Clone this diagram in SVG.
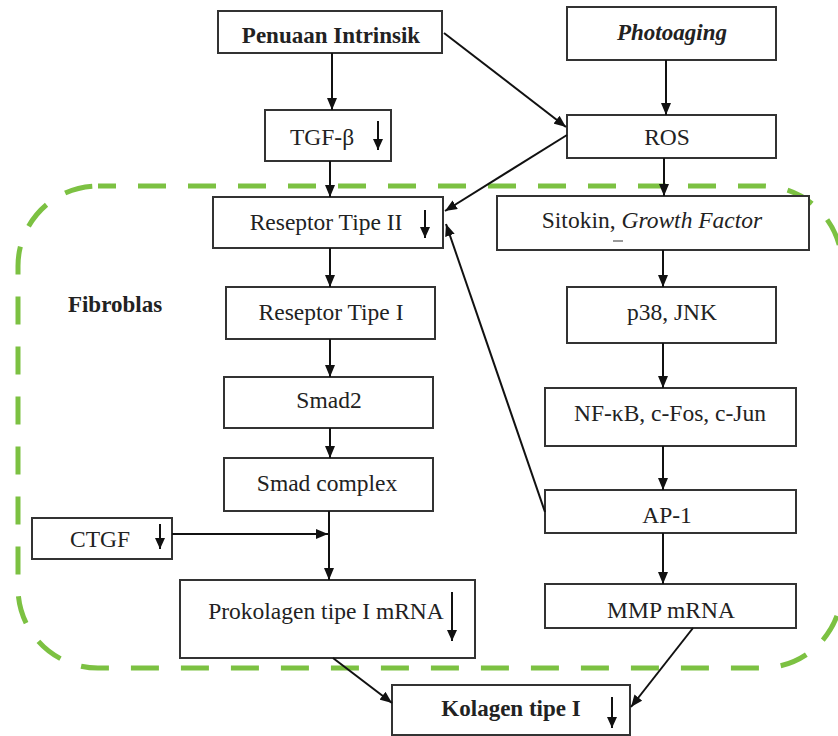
<svg xmlns="http://www.w3.org/2000/svg" width="838" height="736" viewBox="0 0 838 736">
<style>
.box{fill:#fff;stroke:#333;stroke-width:2}
.t{font-family:"Liberation Serif","Times New Roman",serif;font-size:23.5px;fill:#222;text-anchor:middle}
.b{font-weight:bold;font-size:23px}
.c{fill:none;stroke:#111;stroke-width:2}
.m{fill:none;stroke:#111;stroke-width:2}
.border{fill:none;stroke:#7cc142;stroke-width:5;stroke-dasharray:28 22;stroke-dashoffset:10}
</style>
<defs>
<marker id="ah" viewBox="0 0 12 10" refX="12" refY="5" markerWidth="12" markerHeight="10" markerUnits="userSpaceOnUse" orient="auto"><path d="M0,0 L12,5 L0,10 z" fill="#111"/></marker>
<marker id="ah2" viewBox="0 0 11 10" refX="11" refY="5" markerWidth="11" markerHeight="10" markerUnits="userSpaceOnUse" orient="auto"><path d="M0,0 L11,5 L0,10 z" fill="#111"/></marker>
</defs>
<rect width="838" height="736" fill="#fff"/>
<rect id="fibroblas-region" class="border" x="18" y="186" width="824" height="482" rx="80" ry="80"/>
<text class="t b" x="115" y="312">Fibroblas</text>

<g id="penuaan"><rect class="box" x="218" y="11" width="224" height="42"/><text class="t b" x="331" y="43">Penuaan Intrinsik</text></g>
<g id="photoaging"><rect class="box" x="567" y="7" width="209" height="53"/><text class="t b" x="672" y="40" font-style="italic">Photoaging</text></g>
<g id="tgf"><rect class="box" x="265" y="110" width="126" height="51"/><text class="t" x="322" y="145">TGF-β</text><path class="m" d="M378,121 V150" marker-end="url(#ah2)"/></g>
<g id="ros"><rect class="box" x="567" y="115" width="209" height="43"/><text class="t" x="667" y="145">ROS</text></g>
<g id="reseptor2"><rect class="box" x="213" y="197" width="230" height="51"/><text class="t" x="326" y="230">Reseptor Tipe II</text><path class="m" d="M425,210 V238" marker-end="url(#ah2)"/></g>
<g id="sitokin"><rect class="box" x="497" y="196" width="312" height="54"/><text class="t" x="652" y="228">Sitokin, <tspan font-style="italic">Growth Factor</tspan></text><path d="M613,241 H623" stroke="#777" stroke-width="1.5"/></g>
<g id="reseptor1"><rect class="box" x="226" y="287" width="209" height="52"/><text class="t" x="331" y="320">Reseptor Tipe I</text></g>
<g id="p38"><rect class="box" x="567" y="287" width="209" height="56"/><text class="t" x="672" y="320">p38, JNK</text></g>
<g id="smad2"><rect class="box" x="224" y="377" width="209" height="51"/><text class="t" x="329" y="408">Smad2</text></g>
<g id="nfkb"><rect class="box" x="545" y="388" width="251" height="58"/><text class="t" x="670" y="421">NF-κB, c-Fos, c-Jun</text></g>
<g id="smadcomplex"><rect class="box" x="224" y="458" width="209" height="53"/><text class="t" x="327" y="491">Smad complex</text></g>
<g id="ap1"><rect class="box" x="545" y="490" width="251" height="43"/><text class="t" x="667" y="523">AP-1</text></g>
<g id="ctgf"><rect class="box" x="32" y="518" width="140" height="41"/><text class="t" x="100" y="547">CTGF</text><path class="m" d="M160,524 V549" marker-end="url(#ah2)"/></g>
<g id="prokolagen"><rect class="box" x="180" y="580" width="295" height="78"/><text class="t" x="326" y="619">Prokolagen tipe I mRNA</text><path class="m" d="M452,592 V641" marker-end="url(#ah2)"/></g>
<g id="mmp"><rect class="box" x="545" y="584" width="251" height="44"/><text class="t" x="671" y="618">MMP mRNA</text></g>
<g id="kolagen"><rect class="box" x="392" y="685" width="238" height="50"/><text class="t b" x="511" y="716">Kolagen tipe I</text><path class="m" d="M612,697 V728" marker-end="url(#ah2)"/></g>

<g id="connectors">
<path class="c" d="M332,53 V110" marker-end="url(#ah)"/>
<path class="c" d="M444,33 L566,127" marker-end="url(#ah)"/>
<path class="c" d="M666,60 V115" marker-end="url(#ah)"/>
<path class="c" d="M330,161 V197" marker-end="url(#ah)"/>
<path class="c" d="M567,135 L445,211" marker-end="url(#ah)"/>
<path class="c" d="M664,158 V196" marker-end="url(#ah)"/>
<path class="c" d="M330,248 V287" marker-end="url(#ah)"/>
<path class="c" d="M330,339 V377" marker-end="url(#ah)"/>
<path class="c" d="M330,428 V458" marker-end="url(#ah)"/>
<path class="c" d="M329,511 V580" marker-end="url(#ah)"/>
<path class="c" d="M172,534 H328" marker-end="url(#ah)"/>
<path class="c" d="M663,250 V287" marker-end="url(#ah)"/>
<path class="c" d="M663,343 V388" marker-end="url(#ah)"/>
<path class="c" d="M663,446 V490" marker-end="url(#ah)"/>
<path class="c" d="M663,533 V584" marker-end="url(#ah)"/>
<path class="c" d="M545,512 L446,224" marker-end="url(#ah)"/>
<path class="c" d="M333,658 L392,703" marker-end="url(#ah)"/>
<path class="c" d="M693,628 L631,707" marker-end="url(#ah)"/>
</g>
</svg>
